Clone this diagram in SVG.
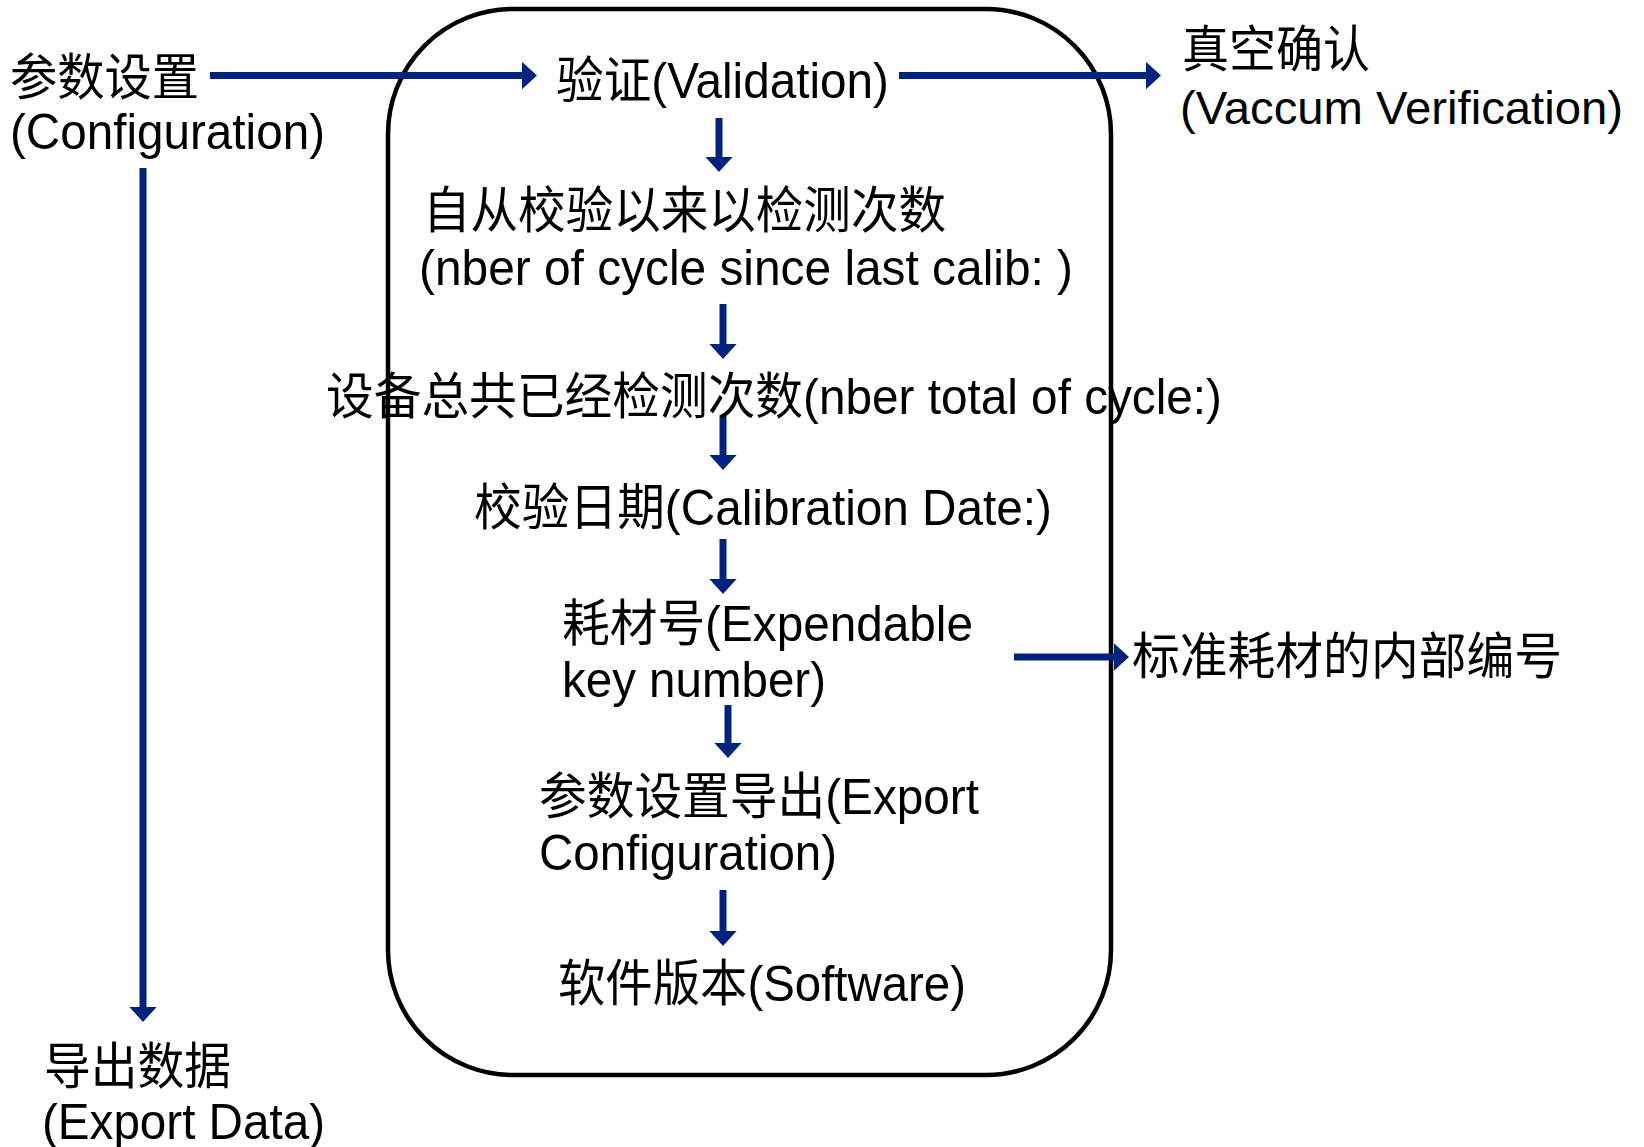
<svg xmlns="http://www.w3.org/2000/svg" width="1644" height="1147" viewBox="0 0 1644 1147">
<defs>
<style>
text{font-family:"Liberation Sans","Noto Sans CJK SC",sans-serif;font-size:50px;fill:#000}
.arr{stroke:#00247D;stroke-width:7;fill:none}
</style>
<marker id="ah" markerWidth="4" markerHeight="4" viewBox="0 0 4 4" refX="1.2" refY="2" orient="auto" markerUnits="strokeWidth">
<path d="M0,0 L2.2,2 L0,4 Z" fill="#00247D"/>
</marker>
</defs>
<rect width="1644" height="1147" fill="#fff"/>
<g id="container">
<rect x="388" y="9" width="723" height="1066" rx="125" ry="125" fill="none" stroke="#000" stroke-width="4.5"/>
</g>
<g id="connectors">
<line class="arr" x1="210" y1="75.5" x2="530" y2="75.5" marker-end="url(#ah)"/>
<line class="arr" x1="899" y1="75.5" x2="1154" y2="75.5" marker-end="url(#ah)"/>
<line class="arr" x1="719" y1="118" x2="719" y2="165" marker-end="url(#ah)"/>
<line class="arr" x1="723" y1="304" x2="723" y2="352" marker-end="url(#ah)"/>
<line class="arr" x1="723" y1="416" x2="723" y2="463" marker-end="url(#ah)"/>
<line class="arr" x1="723" y1="539" x2="723" y2="587" marker-end="url(#ah)"/>
<line class="arr" x1="728" y1="705" x2="728" y2="751" marker-end="url(#ah)"/>
<line class="arr" x1="723" y1="890" x2="723" y2="939" marker-end="url(#ah)"/>
<line class="arr" x1="143" y1="168" x2="143" y2="1015" marker-end="url(#ah)"/>
<line class="arr" x1="1014" y1="657" x2="1122" y2="657" marker-end="url(#ah)"/>
</g>
<g id="n-config">
<text x="10" y="95" textLength="189" lengthAdjust="spacingAndGlyphs">参数设置</text>
<text x="10" y="149" textLength="315" lengthAdjust="spacingAndGlyphs">(Configuration)</text>
</g>
<g id="n-validation">
<text x="556" y="98" textLength="333" lengthAdjust="spacingAndGlyphs">验证(Validation)</text>
</g>
<g id="n-vacuum">
<text x="1182" y="67" textLength="188" lengthAdjust="spacingAndGlyphs">真空确认</text>
<text x="1180" y="124" style="font-size:47px" textLength="443" lengthAdjust="spacingAndGlyphs">(Vaccum Verification)</text>
</g>
<g id="n-cycles-since">
<text x="423" y="228" textLength="523" lengthAdjust="spacingAndGlyphs">自从校验以来以检测次数</text>
<text x="419" y="285" textLength="654" lengthAdjust="spacingAndGlyphs">(nber of cycle since last calib: )</text>
</g>
<g id="n-cycles-total">
<text x="326" y="414" textLength="896" lengthAdjust="spacingAndGlyphs">设备总共已经检测次数(nber total of cycle:)</text>
</g>
<g id="n-calib-date">
<text x="474" y="525" textLength="578" lengthAdjust="spacingAndGlyphs">校验日期(Calibration Date:)</text>
</g>
<g id="n-expendable">
<text x="562" y="641" textLength="411" lengthAdjust="spacingAndGlyphs">耗材号(Expendable</text>
<text x="562" y="697" textLength="264" lengthAdjust="spacingAndGlyphs">key number)</text>
</g>
<g id="n-internal-no">
<text x="1132" y="674" textLength="430" lengthAdjust="spacingAndGlyphs">标准耗材的内部编号</text>
</g>
<g id="n-export-config">
<text x="539" y="814" textLength="440" lengthAdjust="spacingAndGlyphs">参数设置导出(Export</text>
<text x="539" y="870" textLength="298" lengthAdjust="spacingAndGlyphs">Configuration)</text>
</g>
<g id="n-software">
<text x="558" y="1001" textLength="408" lengthAdjust="spacingAndGlyphs">软件版本(Software)</text>
</g>
<g id="n-export-data">
<text x="44" y="1084" textLength="187" lengthAdjust="spacingAndGlyphs">导出数据</text>
<text x="42" y="1139" textLength="283" lengthAdjust="spacingAndGlyphs">(Export Data)</text>
</g>
</svg>
